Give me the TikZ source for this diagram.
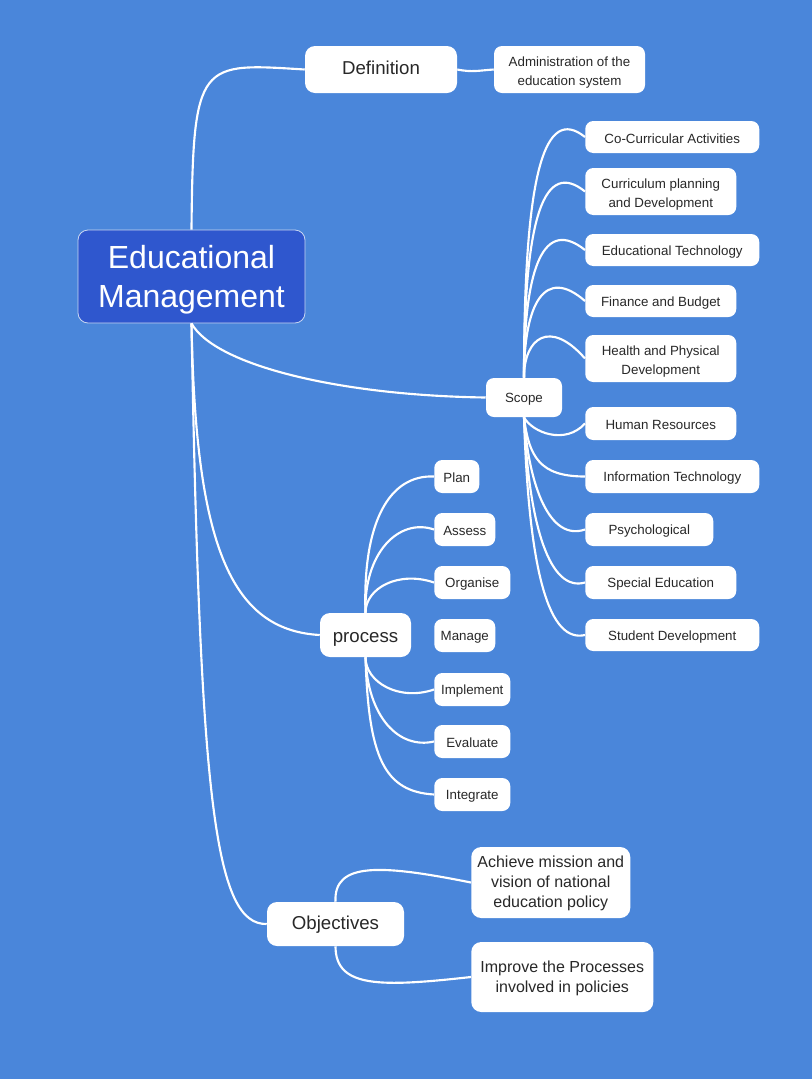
\documentclass[tikz,border=0pt]{standalone}
\usepackage{fontspec}
\setmainfont{Liberation Sans}
\definecolor{bg}{RGB}{74,134,218}
\definecolor{rootfill}{RGB}{47,87,206}
\definecolor{rootline}{RGB}{200,214,242}
\definecolor{txt}{RGB}{40,40,40}
\newcommand\firstln[1]{\rule{0pt}{#1}}
\tikzset{
  sz/.style 2 args={minimum width=#1*0.75pt, minimum height=#2*0.75pt},
  basebx/.style={rectangle, rounded corners=6pt, fill=white, draw=none, text=txt,
    inner sep=0pt, align=center, font=\fontsize{10}{14}\selectfont},
  bx/.style={basebx, execute at begin node={\rule{0pt}{9.8pt}}},
  twobx/.style={basebx},
  bigbx/.style={basebx, rounded corners=7.5pt, font=\fontsize{14}{17}\selectfont},
  midbx/.style={basebx, rounded corners=7.5pt, font=\fontsize{12}{15}\selectfont},
  rootbx/.style={rectangle, rounded corners=7.5pt, fill=rootfill, draw=rootline,
    line width=0.6pt, text=white, inner sep=0pt, align=center,
    font=\fontsize{24}{29}\selectfont},
  link/.style={draw=white, line width=1.6pt}
}
\begin{document}
\begin{tikzpicture}[x=0.75pt, y=-0.75pt]
\fill[bg] (0,0) rectangle (812,1079);
\useasboundingbox (0,0) rectangle (812,1079);

% nodes
\node[rootbx, sz={227}{93}] (root) at (191.5,276.5) {\firstln{22.5pt}Educational\\Management};
\node[bigbx, sz={152}{47}] (def) at (381,69.5) {\rule[-2pt]{0pt}{0pt}Definition};
\node[twobx, sz={151}{47}] (adm) at (569.5,69.5) {\firstln{11.8pt}Administration of the\\education system};
\node[bx, sz={76}{39}] (scope) at (524,397.5) {Scope};

\node[bx, sz={174}{32}, anchor=west] (s1) at (585,137) {Co-Curricular Activities};
\node[twobx, sz={151}{47}, anchor=west] (s2) at (585,191.5) {\firstln{11.8pt}Curriculum planning\\and Development};
\node[bx, sz={174}{32}, anchor=west] (s3) at (585,250) {Educational Technology};
\node[bx, sz={151}{32}, anchor=west] (s4) at (585,301) {Finance and Budget};
\node[twobx, sz={151}{47}, anchor=west] (s5) at (585,358.5) {\firstln{11.8pt}Health and Physical\\Development};
\node[bx, sz={151}{33}, anchor=west] (s6) at (585,423.5) {Human Resources};
\node[bx, sz={174}{33}, anchor=west] (s7) at (585,476.5) {Information Technology};
\node[bx, sz={128}{33}, anchor=west] (s8) at (585,529.5) {Psychological};
\node[bx, sz={151}{33}, anchor=west] (s9) at (585,582.5) {Special Education};
\node[bx, sz={174}{32}, anchor=west] (s10) at (585,635) {Student Development};

\node[bigbx, sz={91}{44}] (proc) at (365.5,635) {\firstln{13.5pt}process};
\node[bx, sz={45}{33}, anchor=west] (p1) at (434,476.5) {Plan};
\node[bx, sz={61}{33}, anchor=west] (p2) at (434,529.5) {Assess};
\node[bx, sz={76}{33}, anchor=west] (p3) at (434,582.5) {Organise};
\node[bx, sz={61}{33}, anchor=west] (p4) at (434,635.5) {Manage};
\node[bx, sz={76}{33}, anchor=west] (p5) at (434,689.5) {Implement};
\node[bx, sz={76}{33}, anchor=west] (p6) at (434,741.5) {Evaluate};
\node[bx, sz={76}{33}, anchor=west] (p7) at (434,794.5) {Integrate};

\node[bigbx, sz={137}{44}] (obj) at (335.5,924) {\firstln{10.8pt}Objectives};
\node[midbx, sz={159}{71}, anchor=west] (o1) at (471,882.5) {\firstln{10.5pt}Achieve mission and\\vision of national\\education policy};
\node[midbx, sz={182}{70}, anchor=west] (o2) at (471,977) {\firstln{10.5pt}Improve the Processes\\involved in policies};

% connectors from root
\draw[link] (root.north) .. controls +(1.5,-170) and +(-105,-6.5) .. (def.west);
\draw[link] (def.east) .. controls +(15,3) and +(-15,1) .. (adm.west);
\draw[link] (root.south) .. controls +(23.5,42) and +(-146,-2) .. (scope.west);
\draw[link] (root.south) .. controls +(4,220) and +(-90,-5) .. (proc.west);
\draw[link] (root.south) .. controls +(8.5,477) and +(-52,1) .. (obj.west);

% scope children
\draw[link] (scope.north) .. controls +(0,-208) and +(-40,-32) .. (s1.west);
\draw[link] (scope.north) .. controls +(0,-165) and +(-40,-32) .. (s2.west);
\draw[link] (scope.north) .. controls +(0,-115) and +(-40,-32) .. (s3.west);
\draw[link] (scope.north) .. controls +(0,-75) and +(-40,-35) .. (s4.west);
\draw[link] (scope.north) .. controls +(0,-40) and +(-35,-40) .. (s5.west);
\draw[link] (scope.south) .. controls +(8,15) and +(-20,22) .. (s6.west);
\draw[link] (scope.south) .. controls +(5,40) and +(-45,0) .. (s7.west);
\draw[link] (scope.south) .. controls +(5,70) and +(-35,12) .. (s8.west);
\draw[link] (scope.south) .. controls +(5,110) and +(-35,10) .. (s9.west);
\draw[link] (scope.south) .. controls +(5,160) and +(-35,8) .. (s10.west);

% process children
\draw[link] (proc.north) .. controls +(-3,-90) and +(-45,-2) .. (p1.west);
\draw[link] (proc.north) .. controls +(-2,-60) and +(-35,-12) .. (p2.west);
\draw[link] (proc.north) .. controls +(0,-25) and +(-35,-12) .. (p3.west);
\draw[link] (proc.south) .. controls +(0,25) and +(-35,12) .. (p5.west);
\draw[link] (proc.south) .. controls +(2,60) and +(-35,8) .. (p6.west);
\draw[link] (proc.south) .. controls +(3,100) and +(-50,-3) .. (p7.west);

% objectives children
\draw[link] (obj.north) .. controls +(-2,-40) and +(-90,-18) .. (o1.west);
\draw[link] (obj.south) .. controls +(0,42) and +(-90,10) .. (o2.west);
\end{tikzpicture}
\end{document}
